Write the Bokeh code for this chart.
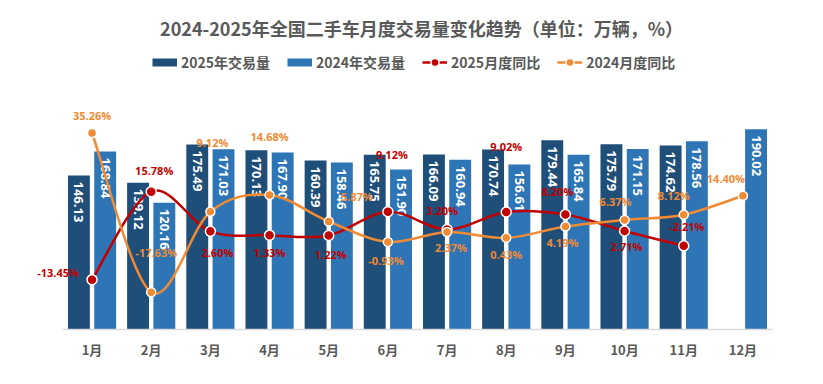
import math
from bokeh.plotting import figure
from bokeh.models import ColumnDataSource, Range1d, FixedTicker, Legend, LegendItem, Label
from bokeh.core.properties import value
from bokeh.transform import dodge
from bokeh.embed import file_html
from bokeh.resources import INLINE

# ---------------- data ----------------
months = ["1月", "2月", "3月", "4月", "5月", "6月", "7月", "8月", "9月", "10月", "11月", "12月"]
vol_2025 = [146.13, 139.12, 175.49, 170.13, 160.39, 165.75, 166.09, 170.74, 179.44, 175.79, 174.62]
vol_2024 = [168.84, 120.16, 171.03, 167.90, 158.46, 151.90, 160.94, 156.61, 165.84, 171.15, 178.56, 190.02]
yoy_2025 = [-13.45, 15.78, 2.60, 1.33, 1.22, 9.12, 3.20, 9.02, 8.20, 2.71, -2.21]
yoy_2024 = [35.26, -17.63, 9.12, 14.68, 5.87, -0.93, 2.37, 0.43, 4.19, 6.37, 8.12, 14.40]

title_text = "2024-2025年全国二手车月度交易量变化趋势（单位：万辆，%）"
series_names = ["2025年交易量", "2024年交易量", "2025月度同比", "2024月度同比"]

# ---------------- style ----------------
C_DARK = "#1F4E79"
C_LIGHT = "#2E75B6"
C_RED = "#C00000"
C_ORANGE = "#F08A33"
C_TEXT = "#595959"
CJK = "Noto Sans CJK SC"
NUM = "Open Sans"

# label offsets in screen pixels (dx, dy) relative to each point
off_2025 = [(-34, -7), (3, -21), (7, 21), (0, 17), (2, 19), (4, -57), (-5, -19),
            (0, -65), (-8, -23), (2, 16), (3, -19)]
off_2024 = [(0, -17), (5, -40), (2, -69), (0, -58), (28, -25), (-2, 19), (4, 15),
            (0, 17), (-3, 16), (-9, -18), (-10, -19), (-17, -17)]

BAR_W = 0.37
DODGE = 0.222

FRAME_W, FRAME_H = 742, 329
X_START, X_END = -1.04, 11.5          # axis line itself is bounded to -0.5 .. 11.5
PX_PER_VOL = 1.054                     # pixels per 万辆
PX_PER_PCT = 3.0114                    # pixels per percentage point
PCT_MIN = -30
NAN = float("nan")

p = figure(frame_width=FRAME_W, frame_height=FRAME_H,
           min_border_left=30, min_border_right=51, min_border_top=0, min_border_bottom=55,
           x_range=Range1d(X_START, X_END), y_range=Range1d(0, FRAME_H / PX_PER_VOL),
           y_axis_location=None, output_backend="svg", toolbar_location=None,
           background_fill_color="white", border_fill_color="white")
p.extra_y_ranges = {"pct": Range1d(PCT_MIN, PCT_MIN + FRAME_H / PX_PER_PCT)}
p.outline_line_color = None
p.xgrid.visible = False
p.ygrid.visible = False

# title (screen units inside the frame)
p.add_layout(Label(x=391, y=302, x_units="screen", y_units="screen", text=title_text,
                   text_align="center", text_baseline="middle", text_font=CJK,
                   text_font_size="18px", text_font_style="bold", text_color=C_TEXT))

# x axis
ax = p.xaxis[0]
ax.ticker = FixedTicker(ticks=list(range(len(months))))
ax.bounds = (-0.5, len(months) - 0.5)
ax.major_label_overrides = {i: m for i, m in enumerate(months)}
ax.major_tick_line_color = None
ax.minor_tick_line_color = None
ax.major_tick_out = 0
ax.major_tick_in = 0
ax.axis_line_color = "#D9D9D9"
ax.axis_line_width = 1.5
ax.major_label_standoff = 10
ax.major_label_text_font = CJK
ax.major_label_text_font_size = "13px"
ax.major_label_text_font_style = "bold"
ax.major_label_text_color = C_TEXT

# sources
s25 = ColumnDataSource(dict(idx=list(range(len(vol_2025))), v=vol_2025,
                            lbl=[f"{v:.2f}" for v in vol_2025]))
s24 = ColumnDataSource(dict(idx=list(range(len(vol_2024))), v=vol_2024,
                            lbl=[f"{v:.2f}" for v in vol_2024]))

b25 = p.vbar(x=dodge("idx", -DODGE, range=p.x_range), top="v", width=BAR_W, source=s25,
             fill_color=C_DARK, line_color=None)
b24 = p.vbar(x=dodge("idx", DODGE, range=p.x_range), top="v", width=BAR_W, source=s24,
             fill_color=C_LIGHT, line_color=None)

for src, d in ((s25, -DODGE), (s24, DODGE)):
    p.text(x=dodge("idx", d, range=p.x_range), y="v", text="lbl", source=src,
           angle=-math.pi / 2, text_align="left", text_baseline="middle",
           y_offset=6, text_color="white", text_font=value(NUM),
           text_font_size="13px", text_font_style="bold")


def smooth_segments(ys):
    n = len(ys)
    pts = [(float(i), float(y)) for i, y in enumerate(ys)]
    seg = dict(x0=[], y0=[], x1=[], y1=[], cx0=[], cy0=[], cx1=[], cy1=[])
    for i in range(n - 1):
        p0 = pts[i - 1] if i > 0 else pts[i]
        p1 = pts[i]
        p2 = pts[i + 1]
        p3 = pts[i + 2] if i + 2 < n else pts[i + 1]
        seg["x0"].append(p1[0]); seg["y0"].append(p1[1])
        seg["x1"].append(p2[0]); seg["y1"].append(p2[1])
        seg["cx0"].append(p1[0] + (p2[0] - p0[0]) / 6)
        seg["cy0"].append(p1[1] + (p2[1] - p0[1]) / 6)
        seg["cx1"].append(p2[0] - (p3[0] - p1[0]) / 6)
        seg["cy1"].append(p2[1] - (p3[1] - p1[1]) / 6)
    return ColumnDataSource(seg)


scatters = {}
for ys, color, offs, size, key in ((yoy_2025, C_RED, off_2025, 10, "r"),
                                  (yoy_2024, C_ORANGE, off_2024, 9, "o")):
    p.bezier(x0="x0", y0="y0", x1="x1", y1="y1", cx0="cx0", cy0="cy0", cx1="cx1", cy1="cy1",
             source=smooth_segments(ys), line_color=color, line_width=2.5, y_range_name="pct")
    src = ColumnDataSource(dict(idx=list(range(len(ys))), v=ys,
                                lbl=[f"{v:.2f}%" for v in ys],
                                dx=[o[0] for o in offs], dy=[o[1] for o in offs]))
    scatters[key] = p.scatter(x="idx", y="v", source=src, size=size, fill_color=color,
                              line_color="white", line_width=1.5, y_range_name="pct")
    p.text(x="idx", y="v", text="lbl", source=src, x_offset="dx", y_offset="dy",
           text_align="center", text_baseline="middle", text_color=color,
           text_font=value(NUM), text_font_size="11px", text_font_style="bold",
           y_range_name="pct")

# legend proxies (renderers with no drawable point, used only for their legend glyphs)
lg_dark = p.line(x=[NAN], y=[NAN], line_color=C_DARK, line_width=8, line_cap="butt")
lg_light = p.line(x=[NAN], y=[NAN], line_color=C_LIGHT, line_width=8, line_cap="butt")
lg_red = p.line(x=[NAN], y=[NAN], line_color=C_RED, line_width=2.5)
lg_orange = p.line(x=[NAN], y=[NAN], line_color=C_ORANGE, line_width=2.5)

legend = Legend(items=[
    LegendItem(label=series_names[0], renderers=[lg_dark]),
    LegendItem(label=series_names[1], renderers=[lg_light]),
    LegendItem(label=series_names[2], renderers=[lg_red, scatters["r"]]),
    LegendItem(label=series_names[3], renderers=[lg_orange, scatters["o"]]),
], orientation="horizontal", location=(122, 257), glyph_width=25, glyph_height=20,
    label_height=20, label_standoff=4, spacing=17, padding=0, margin=0,
    border_line_color=None, background_fill_alpha=0,
    label_text_font=CJK, label_text_font_size="14px", label_text_font_style="bold",
    label_text_color=C_TEXT)
p.add_layout(legend)

open("out.html", "w").write(file_html(p, INLINE))
